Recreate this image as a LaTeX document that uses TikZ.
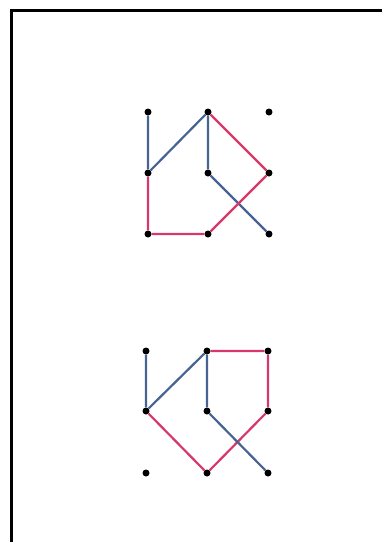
\documentclass[tikz,border=0pt]{standalone}
\usepackage{xcolor}
\usepackage{tikz}
\usetikzlibrary{arrows.meta}
\definecolor{edgeblue}{RGB}{70,100,145}
\definecolor{edgered}{RGB}{215,55,105}

\begin{document}
\begin{tikzpicture}[x=1pt,y=-1pt,
  dot/.style={circle,fill=black,inner sep=0pt,minimum size=7pt},
  blu/.style={edgeblue,line width=2.2pt},
  rd/.style={edgered,line width=2.2pt}]
\useasboundingbox(0,0)rectangle(382,542);
\draw[line width=3pt](11,543)--(11,10)--(383,10);
\foreach \i/\x in {0/148,1/208,2/269}
  \foreach \j/\y in {0/112,1/173,2/234}
    \node[dot](a\i\j) at (\x,\y){};
\foreach \i/\x in {0/146,1/207,2/268}
  \foreach \j/\y in {0/351,1/411,2/473}
    \node[dot](b\i\j) at (\x,\y){};
\draw[blu](a00)--(a01) (a10)--(a01) (a10)--(a11) (a11)--(a22);
\draw[rd](a10)--(a21)--(a12)--(a02)--(a01);
\draw[rd](b10)--(b20)--(b21)--(b12)--(b01);
\draw[blu](b00)--(b01) (b10)--(b01) (b10)--(b11) (b11)--(b22);
\end{tikzpicture}
\end{document}
